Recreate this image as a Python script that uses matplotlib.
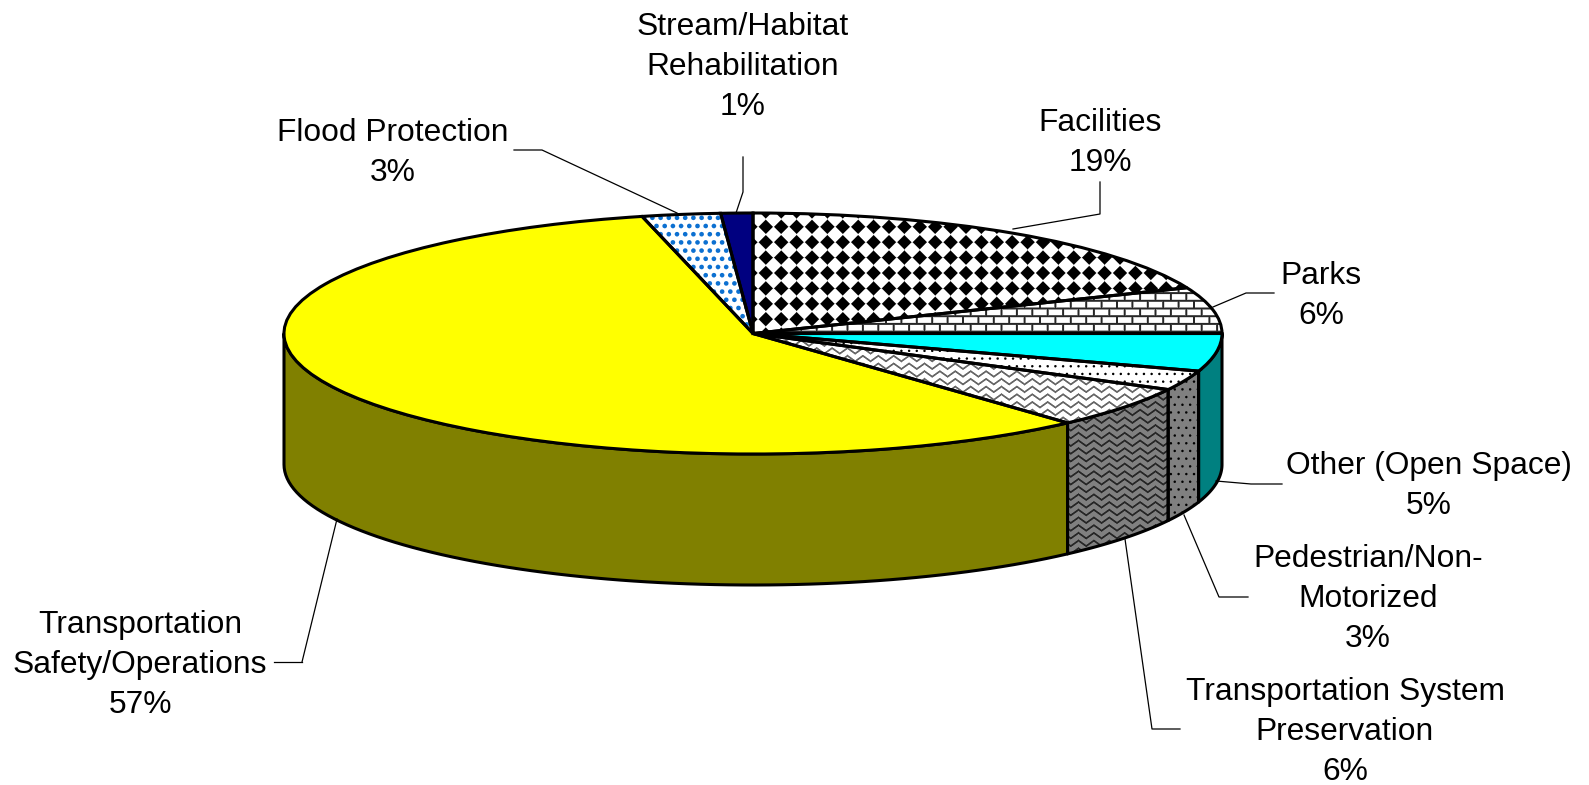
#!/usr/bin/env python3
"""Flattened 3D pie of programme shares, textured slices and leader lines."""

import numpy as np
import matplotlib
matplotlib.use('Agg')
import matplotlib.pyplot as plt
from matplotlib.patches import Polygon, Wedge

plt.rcParams['font.family'] = ['Liberation Sans', 'DejaVu Sans']

W, H = 1589, 785
CX, CY, RX, RY, DEPTH = 753, 333.5, 469, 120.5, 131

categories = ['Facilities', 'Parks', 'Other (Open Space)', 'Pedestrian/Non-\nMotorized',
              'Transportation System\nPreservation', 'Transportation\nSafety/Operations',
              'Flood Protection', 'Stream/Habitat\nRehabilitation']
# slice widths as drawn; the printed percentages differ a little from them
shares = [18.8, 6.2, 5.05, 2.65, 5.6, 57.9, 2.7, 1.1]
percent_labels = ['19%', '6%', '5%', '3%', '6%', '57%', '3%', '1%']
top_colors = ['white', 'white', '#00ffff', 'white', 'white', '#ffff00', 'white', '#000080']
side_colors = ['#808080', '#808080', '#008080', '#808080', '#808080', '#808000', '#808080', '#000080']
textures = ['diamond', 'brick', None, 'dots', 'wave', None, 'blue', None]
side_textures = [None, None, None, 'dots', 'wave', None, None, None]

label_pos = [(1100, 143), (1321, 296), (1429, 486), (1368, 599), (1345, 732), (140, 665), (393, 153), (743, 67)]
leaders = [
    [(1100, 182), (1100, 214), (1013, 229)],
    [(1274, 293), (1246, 293), (1213, 307)],
    [(1282, 484), (1251, 484), (1216, 481)],
    [(1248, 597), (1219, 597), (1184, 515)],
    [(1180, 729), (1152, 729), (1125, 539)],
    [(302, 662), (274, 662)],
    [(302, 662), (337, 519)],
    [(514, 150), (542, 150), (677, 213)],
    [(743, 157), (743, 192), (736, 213)],
]


def texture(kind, dark=False):
    """RGBA bitmap in figure pixels, transparent where the slice colour shows."""
    y, x = np.mgrid[0:H, 0:W].astype(float)
    ink = np.zeros((H, W))
    color = (0, 0, 0)
    if kind == 'diamond':
        p = 15.4
        u = np.abs((x - 3) % p - p / 2)
        v = np.abs((y - 3) % p - p / 2)
        ink = np.clip((7.9 - (u + v)) / 1.4, 0, 1)
    elif kind == 'brick':
        row_h, brick = 7.7, 15.4
        row = np.floor(y / row_h)
        bx = (x + row * brick / 2) % brick
        d_h = np.minimum(y % row_h, row_h - y % row_h)
        d_v = np.minimum(bx, brick - bx)
        ink = np.clip(1.5 - np.minimum(d_h, d_v), 0, 1) * 0.85
    elif kind == 'wave':
        row_h, period = 7.7, 15.4
        tri = np.abs((x % period) / period * 2 - 1) * 5.5 - 2.75
        dist = np.abs(((y + tri) % row_h) - row_h / 2)
        ink = np.clip(1.6 - dist, 0, 1)
        color = (0.15, 0.15, 0.15) if dark else (0.4, 0.4, 0.4)
    elif kind == 'dots':
        p = 7.7
        row = np.floor(y / p)
        u = (x + row * p / 2) % p - p / 2
        v = y % p - p / 2
        ink = np.clip(1.7 - np.hypot(u, v), 0, 1)
    elif kind == 'blue':
        p = 8.2
        row = np.floor(y / p)
        u = (x + row * p / 2) % p - p / 2
        v = y % p - p / 2
        ink = np.clip(2.8 - np.hypot(u, v), 0, 1)
        color = (0.05, 0.44, 0.82)
    img = np.zeros((H, W, 4))
    img[..., 0], img[..., 1], img[..., 2] = color
    img[..., 3] = ink
    return img


def arc(t1, t2, dy=0.0, n=80):
    t = np.radians(np.linspace(t1, t2, n))
    return np.column_stack([np.cos(t), np.sin(t) - dy])


def main():
    fig = plt.figure(figsize=(W / 100, H / 100), dpi=100)
    ax = fig.add_axes([0, 0, 1, 1])
    wedges, _ = ax.pie(shares, startangle=90, counterclock=False, colors=top_colors,
                       wedgeprops={'linewidth': 0, 'zorder': 2})
    xlim = (-CX / RX, (W - CX) / RX)
    ylim = ((CY - H) / RY, CY / RY)
    extent = (xlim[0], xlim[1], ylim[0], ylim[1])
    depth = DEPTH / RY

    for wedge, kind, side, side_kind in zip(wedges, textures, side_colors, side_textures):
        a1, a2 = max(wedge.theta1, -180), min(wedge.theta2, 0)
        if a2 - a1 > 1e-6:
            pts = np.vstack([arc(a1, a2), arc(a2, a1, depth)])
            wall = Polygon(pts, closed=True, facecolor=side, edgecolor='none', zorder=1)
            ax.add_patch(wall)
            if side_kind:
                im = ax.imshow(texture(side_kind, dark=True), extent=extent, aspect='auto',
                               zorder=1.1, interpolation='nearest')
                im.set_clip_path(wall)
            ax.add_patch(Polygon(pts, closed=True, fill=False, edgecolor='black',
                                 linewidth=2.2, joinstyle='round', zorder=1.2))
        if kind:
            im = ax.imshow(texture(kind), extent=extent, aspect='auto', zorder=2.1,
                           interpolation='nearest')
            im.set_clip_path(wedge)
        ax.add_patch(Wedge((0, 0), 1, wedge.theta1, wedge.theta2, fill=False,
                           edgecolor='black', linewidth=2.2, zorder=3))

    ax.set_aspect('auto')
    ax.set_xlim(xlim)
    ax.set_ylim(ylim)
    ax.axis('off')

    # labels go on a pixel overlay
    over = fig.add_axes([0, 0, 1, 1], facecolor='none')
    over.set_xlim(0, W)
    over.set_ylim(H, 0)
    over.axis('off')
    for name, pct, (lx, ly) in zip(categories, percent_labels, label_pos):
        over.text(lx, ly, f'{name}\n{pct}', ha='center', va='center',
                  fontsize=22.9, linespacing=1.42, color='black')
    for seg in leaders:
        xs, ys = zip(*seg)
        over.plot(xs, ys, color='black', linewidth=0.9)

    fig.savefig('out.png', dpi=100)
    plt.close(fig)


if __name__ == '__main__':
    main()
